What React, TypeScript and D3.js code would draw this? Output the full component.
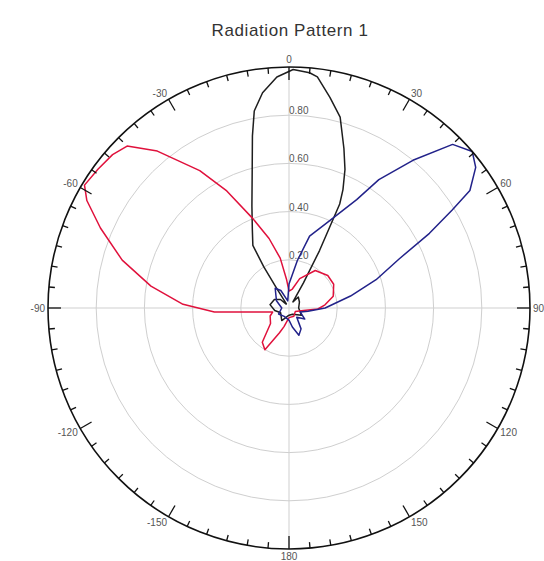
import React, {useEffect, useRef} from "react"
import * as d3 from "d3"

const title = "Radiation Pattern 1"
const radialTicks = [0.2, 0.4, 0.6, 0.8]
const radialTickLabels = ["0.20", "0.40", "0.60", "0.80"]
const angleTicks = [0, 30, 60, 90, 120, 150, 180, 210, 240, 270, 300, 330]
const angleTickLabels = ["0", "30", "60", "90", "120", "150", "180", "-150", "-120", "-90", "-60", "-30"]

// angles in degrees, clockwise from the top
const blackAngles = [-180, -150, -120, -100, -80, -60, -45, -36, -33, -32, -31.5, -30, -25, -20, -15, -12, -10, -7, -3, 1, 5, 7, 11, 15, 19, 22, 24.5, 26, 28, 30, 33, 40, 60, 90, 120, 150, 180]
const blackValues = [0.03, 0.06, 0.04, 0.06, 0.08, 0.07, 0.05, 0.02, 0.02, 0.1, 0.2, 0.3, 0.36, 0.45, 0.59, 0.73, 0.83, 0.9, 0.96, 0.99, 0.98, 0.966, 0.89, 0.82, 0.7, 0.62, 0.54, 0.48, 0.27, 0.12, 0.03, 0.06, 0.05, 0.04, 0.06, 0.03, 0.03]

const redAngles = [-180, -165, -159, -150, -142, -130, -113, -104, -93, -88, -81, -74, -67, -62, -59, -54, -49, -45, -40, -33, -28, -22, -16, -10, -5, 0, 10, 20, 35, 50, 62, 75, 85, 92, 100, 120, 150, 180]
const redValues = [0.04, 0.08, 0.11, 0.2, 0.18, 0.1, 0.085, 0.07, 0.31, 0.44, 0.58, 0.72, 0.85, 0.95, 0.99, 0.98, 0.97, 0.95, 0.85, 0.68, 0.55, 0.4, 0.3, 0.21, 0.12, 0.07, 0.08, 0.13, 0.19, 0.21, 0.21, 0.19, 0.15, 0.12, 0.06, 0.03, 0.04, 0.04]

const blueAngles = [-180, -150, -120, -90, -60, -35, -25, -10, 0, 10, 16, 25, 32, 35, 40, 45, 49.5, 53, 57, 59, 62, 66, 72, 79, 90, 100, 110, 125, 140, 150, 160, 170, 180]
const blueValues = [0.05, 0.04, 0.05, 0.03, 0.06, 0.1, 0.08, 0.03, 0.1, 0.2, 0.31, 0.4, 0.53, 0.65, 0.8, 0.96, 1.0, 0.97, 0.895, 0.79, 0.66, 0.5, 0.38, 0.26, 0.15, 0.08, 0.05, 0.08, 0.05, 0.1, 0.12, 0.08, 0.05]

const series = [
    {angles: blackAngles, values: blackValues, color: "#1e1e1e"},
    {angles: redAngles, values: redValues, color: "#e0113c"},
    {angles: blueAngles, values: blueValues, color: "#22228a"},
]

const App = () => {
    const ref = useRef(null)
    const width = 544
    const height = 561
    const cx = 289
    const cy = 308
    const outerR = 241

    useEffect(() => {
        const svg = d3.select(ref.current)
        svg.selectAll("*").remove()

        const r = d3.scaleLinear().domain([0, 1]).range([0, outerR])
        const rad = (deg: number) => deg * Math.PI / 180
        const g = svg.append("g").attr("transform", `translate(${cx},${cy})`)

        svg.append("text")
            .attr("x", 290).attr("y", 36)
            .attr("text-anchor", "middle")
            .attr("font-family", "Liberation Sans, Arial, sans-serif")
            .attr("font-size", 17)
            .attr("letter-spacing", 0.6)
            .attr("fill", "#333")
            .text(title)

        // grid
        g.selectAll(".grid")
            .data(radialTicks)
            .join("circle")
            .attr("r", d => r(d))
            .attr("fill", "none")
            .attr("stroke", "#cfcfcf")
            .attr("stroke-width", 1)

        g.append("line").attr("x1", -outerR).attr("x2", outerR).attr("y1", 0).attr("y2", 0)
            .attr("stroke", "#cfcfcf")
        g.append("line").attr("y1", -outerR).attr("y2", outerR).attr("x1", 0).attr("x2", 0)
            .attr("stroke", "#cfcfcf")

        g.selectAll(".rlabel")
            .data(radialTicks)
            .join("text")
            .attr("x", 0)
            .attr("y", d => -r(d) - 1)
            .attr("font-family", "Liberation Sans, Arial, sans-serif")
            .attr("font-size", 10)
            .attr("fill", "#555")
            .text((d, i) => radialTickLabels[i])

        // curves
        const line = d3.lineRadial<number>()
            .curve(d3.curveLinear)

        series.forEach(s => {
            const pts: Array<[number, number]> = s.angles.map((a, i) => [rad(a), r(s.values[i])])
            g.append("path")
                .attr("d", line(pts as any))
                .attr("fill", "none")
                .attr("stroke", s.color)
                .attr("stroke-width", 1.5)
                .attr("stroke-linejoin", "round")
        })

        // outer ring + ticks
        g.append("circle")
            .attr("r", outerR)
            .attr("fill", "none")
            .attr("stroke", "#111")
            .attr("stroke-width", 1.6)

        const ticks = d3.range(0, 360, 5)
        g.selectAll(".tick")
            .data(ticks)
            .join("line")
            .attr("x1", d => outerR * Math.sin(rad(d)))
            .attr("y1", d => -outerR * Math.cos(rad(d)))
            .attr("x2", d => (outerR - (d % 30 === 0 ? 13 : 6)) * Math.sin(rad(d)))
            .attr("y2", d => -(outerR - (d % 30 === 0 ? 13 : 6)) * Math.cos(rad(d)))
            .attr("stroke", "#111")
            .attr("stroke-width", 1.3)

        // angle labels sit just outside the ring, anchored by the side they face
        g.selectAll(".alabel")
            .data(angleTicks)
            .join("text")
            .attr("x", d => (outerR + 3) * Math.sin(rad(d)))
            .attr("y", d => -(outerR + 3) * Math.cos(rad(d)))
            .attr("dy", d => `${(0.35 - 0.42 * Math.cos(rad(d))).toFixed(2)}em`)
            .attr("text-anchor", d => {
                const s = Math.sin(rad(d))
                return s > 0.1 ? "start" : s < -0.1 ? "end" : "middle"
            })
            .attr("font-family", "Liberation Sans, Arial, sans-serif")
            .attr("font-size", 10)
            .attr("fill", "#555")
            .text((d, i) => angleTickLabels[i])
    }, [])

    return (
        <svg
            ref={ref}
            width={width}
            height={height}
            style={{position: "absolute", left: 0, top: 0, background: "#fff"}}
        />
    )
}

export default App
